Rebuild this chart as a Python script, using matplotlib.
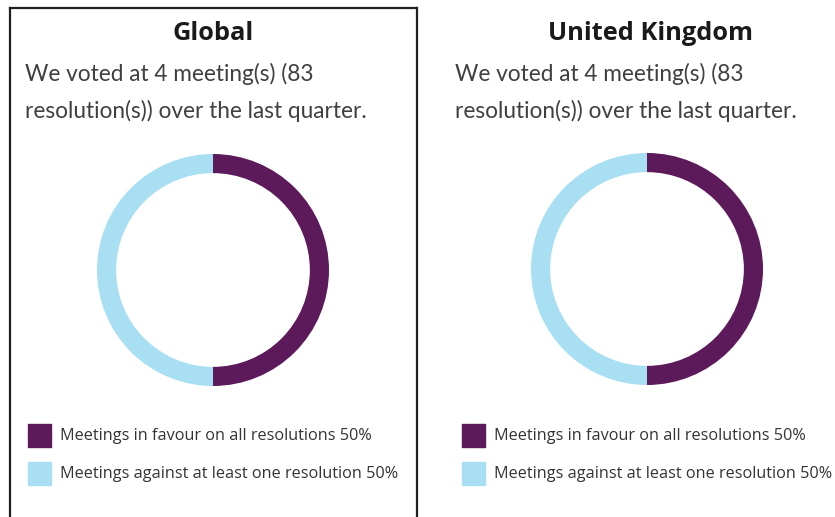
import matplotlib
matplotlib.use("Agg")
import matplotlib.pyplot as plt
from matplotlib.patches import Rectangle
from matplotlib.lines import Line2D

W, H = 835, 517
panels = ["Global", "United Kingdom"]
subtitles = ["We voted at 4 meeting(s) (83\nresolution(s)) over the last quarter.",
             "We voted at 4 meeting(s) (83\nresolution(s)) over the last quarter."]
categories = ["Meetings in favour on all resolutions", "Meetings against at least one resolution"]
values = {"Global": [50, 50], "United Kingdom": [50, 50]}
colors = ["#5C1A5B", "#A9DFF3"]

fig = plt.figure(figsize=(W / 100, H / 100), dpi=100)
fig.patch.set_facecolor("white")

def fx(px):
    return px / W

def fy(py):
    return 1 - py / H

# border around left panel
fig.add_artist(Line2D([fx(10), fx(10)], [fy(8), fy(520)], color="#231f20", lw=1.6, transform=fig.transFigure))
fig.add_artist(Line2D([fx(417), fx(417)], [fy(8), fy(520)], color="#231f20", lw=1.6, transform=fig.transFigure))
fig.add_artist(Line2D([fx(10), fx(417)], [fy(8), fy(8)], color="#231f20", lw=1.6, transform=fig.transFigure))

layout = [
    dict(cx=213, cy=270, tx=213, sx=25, lx=28),
    dict(cx=647, cy=269, tx=651, sx=455, lx=462),
]
R = 116

for name, sub, L in zip(panels, subtitles, layout):
    fig.text(fx(L["tx"]), fy(34), name, ha="center", va="center",
             fontsize=18.3, fontweight="bold", family="Open Sans", color="#1a1a1a")
    lines = sub.split("\n")
    for i, ln in enumerate(lines):
        fig.text(fx(L["sx"]), fy(74 + 37 * i), ln, ha="left", va="center",
                 fontsize=16.3, family="Lato", color="#404040")
    ax = fig.add_axes([fx(L["cx"] - R), fy(L["cy"] + R), fx(2 * R), (2 * R) / H])
    ax.pie(values[name], colors=colors, startangle=90, counterclock=False,
           radius=1.0, wedgeprops=dict(width=0.165, edgecolor="none"))
    ax.set_xlim(-1, 1)
    ax.set_ylim(-1, 1)
    ax.set_aspect("equal")
    ax.axis("off")
    for j, (cat, v) in enumerate(zip(categories, values[name])):
        ytop = 424 + 38 * j
        fig.add_artist(Rectangle((fx(L["lx"]), fy(ytop + 23)), fx(23), 23 / H,
                                 color=colors[j], transform=fig.transFigure))
        fig.text(fx(L["lx"] + 32), fy(ytop + 12), f"{cat} {v}%", ha="left", va="center",
                 fontsize=11.7, family="Open Sans", color="#333333")

fig.savefig("out.png", dpi=100, facecolor="white")
